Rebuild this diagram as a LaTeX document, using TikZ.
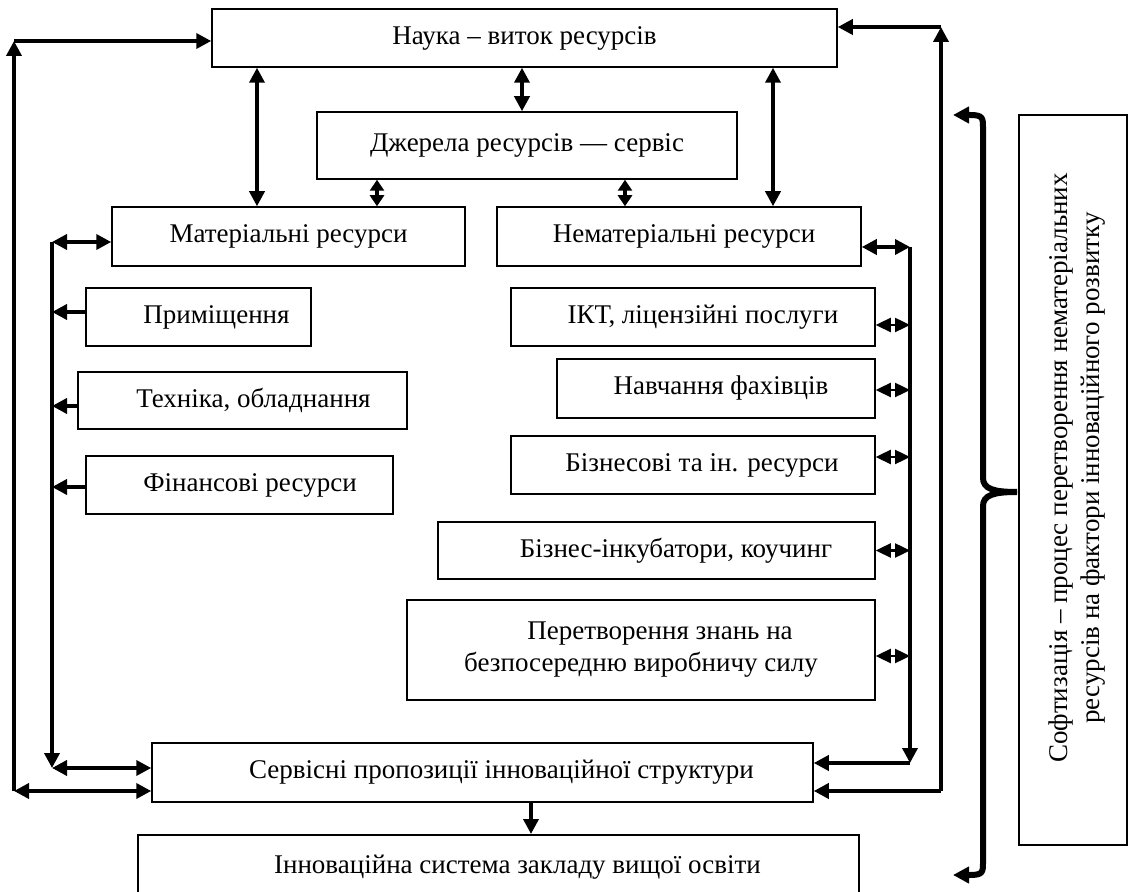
\documentclass[tikz,border=0pt]{standalone}
\usepackage{fontspec}
\setmainfont{Liberation Serif}
\usetikzlibrary{arrows.meta}
\newcommand\diagfont{\fontsize{13.5}{16}\selectfont}
\begin{document}
\begin{tikzpicture}[x=0.5pt,y=-0.5pt,
  box/.style={draw, line width=0.75pt, inner sep=0pt, font=\diagfont, align=center},
  heavy/.style={line width=1.8pt, arrows={-Triangle[length=7.5pt,width=7.5pt]}},
  dbl/.style={line width=1.8pt, arrows={Triangle[length=7.5pt,width=7.5pt]-Triangle[length=7.5pt,width=7.5pt]}},
  shortdbl/.style={line width=1.8pt, arrows={Triangle[length=5.5pt,width=7pt]-Triangle[length=5.5pt,width=7pt]}},
  sm/.style={line width=1.2pt, arrows={Triangle[length=7.5pt,width=7pt]-Triangle[length=7.5pt,width=7pt]}},
  brace/.style={line width=3pt}
]
\useasboundingbox (0,0) rectangle (1130,892);

% boxes
\node[box, minimum width=312.5pt, minimum height=29pt] (nauka) at (524.5,38) {Наука – виток ресурсів};
\node[box, minimum width=210pt, minimum height=33.5pt] (dzherela) at (527,145.5) {Джерела ресурсів — сервіс};
\node[box, minimum width=176.5pt, minimum height=29.5pt] (mat) at (288.5,236.5) {Матеріальні ресурси};
\node[box, minimum width=182pt, minimum height=29.5pt] (nemat) at (679,236.5) {\hspace*{5pt}Нематеріальні ресурси};
\node[box, minimum width=112.5pt, minimum height=29pt] (prym) at (198.5,317) {\hspace*{18pt}Приміщення};
\node[box, minimum width=164.5pt, minimum height=28.5pt] (tekh) at (242.5,400.5) {\hspace*{11pt}Техніка, обладнання};
\node[box, minimum width=153.5pt, minimum height=29pt] (fin) at (239.5,485) {\hspace*{10.5pt}Фінансові ресурси};
\node[box, minimum width=182pt, minimum height=29pt] (ikt) at (693,317) {\hspace*{10pt}ІКТ, ліцензійні послуги};
\node[box, minimum width=159pt, minimum height=29.5pt] (navch) at (716,388.5) {\hspace*{5pt}Навчання фахівців};
\node[box, minimum width=182pt, minimum height=29pt] (biznes) at (693,465) {\hspace*{9pt}Бізнесові та ін. ресурси};
\node[box, minimum width=218.5pt, minimum height=28.5pt] (inkub) at (656.5,550.5) {\hspace*{19.5pt}Бізнес-інкубатори, коучинг};
\node[box, minimum width=234pt, minimum height=50pt] (peretv) at (641,650) {\hspace*{19pt}Перетворення знань на\\безпосередню виробничу силу};
\node[box, minimum width=330.5pt, minimum height=29.5pt] (servis) at (482.5,772.5) {\hspace*{19pt}Сервісні пропозиції інноваційної структури};
\node[box, minimum width=360.5pt, minimum height=32pt, anchor=north] (innov) at (498.5,834) {\hspace*{19pt}\raisebox{-1pt}{Інноваційна система закладу вищої освіти}};
\node[box, minimum width=54pt, minimum height=365pt] (soft) at (1073,480) {};
\node[font=\diagfont, rotate=90, align=center] (softtext) at (1077,468) {Софтизація – процес перетворення нематеріальних\\ресурсів на фактори інноваційного розвитку};

% helper coordinates
\coordinate (xa) at (522,0);
\coordinate (xb) at (257,0);
\coordinate (xc) at (377,0);
\coordinate (xd) at (625,0);
\coordinate (xe) at (773,0);
\coordinate (xf) at (531,0);
\coordinate (L1) at (52,242);
\coordinate (L2) at (52,768);
\coordinate (O1) at (14,41);
\coordinate (O2) at (14,791);
\coordinate (R1) at (910,247);
\coordinate (R2) at (910,763);
\coordinate (Q1) at (941,27);
\coordinate (Q2) at (941,791);

% vertical links at top
\draw[dbl] (xa |- nauka.south) -- (xa |- dzherela.north);
\draw[dbl] (xb |- nauka.south) -- (xb |- mat.north);
\draw[shortdbl] (xc |- dzherela.south) -- (xc |- mat.north);
\draw[shortdbl] (xd |- dzherela.south) -- (xd |- nemat.north);
\draw[dbl] (xe |- nauka.south) -- (xe |- nemat.north);

% left inner bus
\draw[dbl] (mat.west |- L1) -- (L1);
\draw[heavy] (L1) -- (L2);
\draw[dbl] (L2) -- (servis.west |- L2);
\draw[heavy] ([yshift=2.5pt]prym.west) -- ([yshift=2.5pt]prym.west -| L1);
\draw[heavy] ([yshift=-2.75pt]tekh.west) -- ([yshift=-2.75pt]tekh.west -| L1);
\draw[heavy] ([yshift=-1pt]fin.west) -- ([yshift=-1pt]fin.west -| L1);

% left outer loop
\draw[heavy] (O2) -- (O1);
\draw[heavy] (O1) -- (nauka.west |- O1);
\draw[dbl] (O2) -- (servis.west |- O2);

% right inner bus
\draw[dbl] (nemat.east |- R1) -- (R1);
\draw[heavy] (R1) -- (R2);
\draw[heavy] (R2) -- (servis.east |- R2);
\draw[sm] ([yshift=-4pt]ikt.east) -- ([yshift=-4pt]ikt.east -| R1);
\draw[sm] ([yshift=-0.75pt]navch.east) -- ([yshift=-0.75pt]navch.east -| R1);
\draw[sm] ([yshift=4pt]biznes.east) -- ([yshift=4pt]biznes.east -| R1);
\draw[sm] (inkub.east) -- (inkub.east -| R1);
\draw[sm] ([yshift=-3pt]peretv.east) -- ([yshift=-3pt]peretv.east -| R1);

% right outer loop
\draw[heavy] (Q2) -- (servis.east |- Q2);
\draw[heavy] (Q2) -- (Q1);
\draw[heavy] (Q1) -- (nauka.east |- Q1);

% down to innovation system
\draw[heavy] (xf |- servis.south) -- (xf |- innov.north);

% brace
\coordinate (bt) at (953,115);
\coordinate (bm) at (1017,492);
\coordinate (bb) at (953,875);
\draw[brace, arrows={Triangle[length=8pt,width=8pt]-}] (bt) -- (970,115) .. controls (983,115) and (983,118) .. (983,128) -- (983,478) .. controls (983,489) and (994,492) .. (bm);
\draw[brace, arrows={-Triangle[length=8pt,width=8pt]}] (bm) .. controls (994,492) and (983,495) .. (983,506) -- (983,862) .. controls (983,872) and (983,875) .. (970,875) -- (bb);
\end{tikzpicture}
\end{document}
